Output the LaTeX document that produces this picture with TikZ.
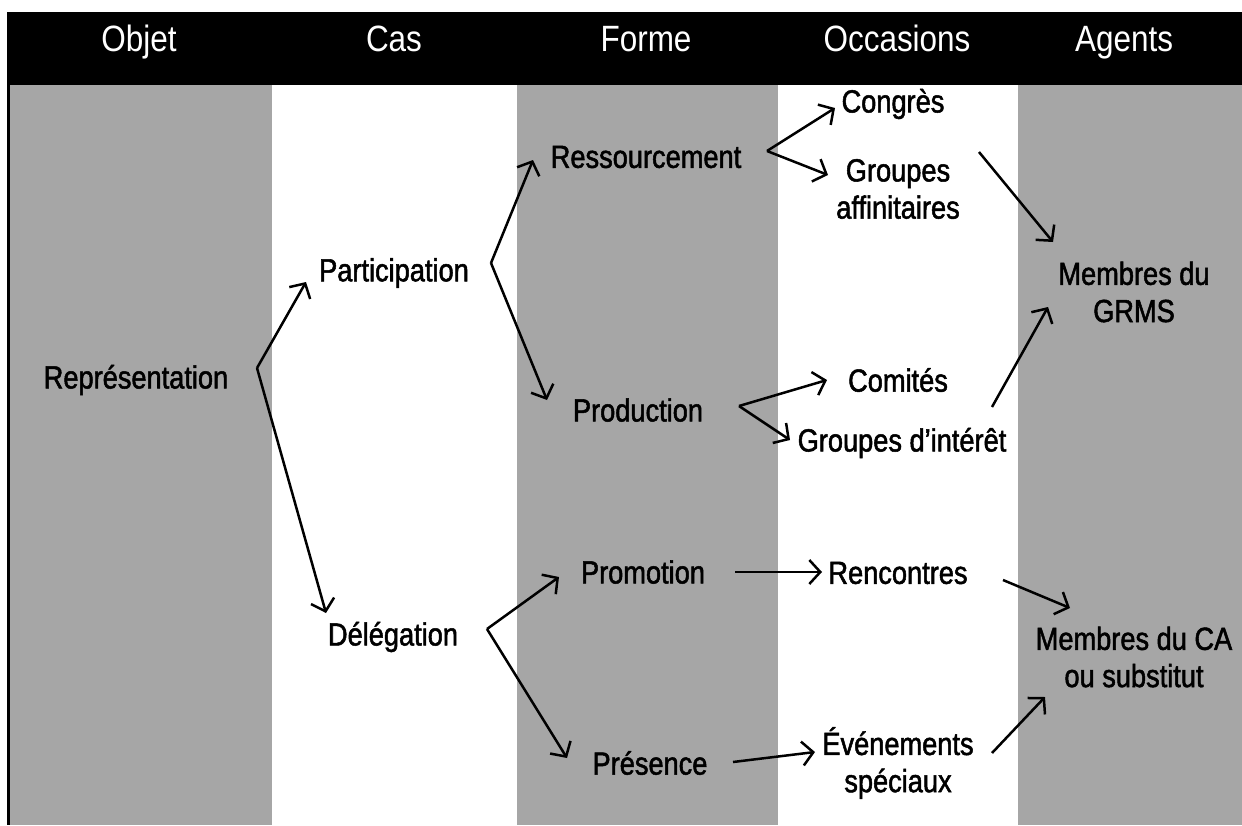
\documentclass[tikz,border=0pt]{standalone}
\usepackage{fontspec}
\setmainfont{Liberation Sans}[FakeStretch=0.86]
\newfontfamily\bodyfont{Liberation Sans}[FakeStretch=0.85, FakeBold=1.6]
\usepackage{xcolor}
\usetikzlibrary{arrows.meta}
\definecolor{colgray}{RGB}{166,166,166}

\tikzset{
  lab/.style={font=\bodyfont\fontsize{16}{18.6}\selectfont, align=center, inner sep=0pt},
  head/.style={font=\fontsize{18.3}{20}\selectfont, text=white, inner sep=0pt, anchor=base},
  flow/.style={-{Straight Barb[length=5.5pt,width=12pt]}, line width=1.25pt},
}

\begin{document}
\begin{tikzpicture}[x=0.5pt,y=-0.5pt]
\useasboundingbox (0,0) rectangle (1242,825);

% columns and header band
\fill[colgray] (9,85) rectangle (272,825);
\fill[colgray] (517,85) rectangle (778,825);
\fill[colgray] (1018,85) rectangle (1242,825);
\fill[black] (7,12) rectangle (1242,85);
\fill[black] (7,12) rectangle (9.5,825);

% headers
\node[head] (hObjet) at (139,51) {Objet};
\node[head] (hCas) at (394,51) {Cas};
\node[head] (hForme) at (646,51) {Forme};
\node[head] (hOcc) at (897,51) {Occasions};
\node[head] (hAgents) at (1124,51) {Agents};

% items
\node[lab] (rep) at (136,380) {Représentation};
\node[lab] (part) at (394,273) {Participation};
\node[lab] (deleg) at (393,637) {Délégation};
\node[lab] (ress) at (646,157) {Ressourcement};
\node[lab] (prod) at (638,410) {Production};
\node[lab] (promo) at (643,572) {Promotion};
\node[lab] (pres) at (650,763) {Présence};
\node[lab] (congres) at (893,104) {Congrès};
\node[lab] (grpaff) at (898,189) {Groupes\\affinitaires};
\node[lab] (comites) at (898,380) {Comités};
\node[lab] (grpint) at (902,443) {Groupes d’intérêt};
\node[lab] (renc) at (898,573) {Rencontres};
\node[lab] (even) at (898,763) {Événements\\spéciaux};
\node[lab] (grms) at (1134,292) {Membres du\\GRMS};
\node[lab] (ca) at (1134,657) {Membres du CA\\ou substitut};

% fork points and arrow ends
\coordinate (vRep) at (257,368);
\coordinate (partIn) at (306,282);
\coordinate (delegIn) at (326,613);
\coordinate (vPart) at (491,263);
\coordinate (ressIn) at (533,160);
\coordinate (prodIn) at (547,400);
\coordinate (vDeleg) at (487,629);
\coordinate (promoIn) at (559,577);
\coordinate (presIn) at (567,758);
\coordinate (vRess) at (767,151);
\coordinate (congresIn) at (835,108);
\coordinate (grpaffIn) at (828,175);
\coordinate (vProd) at (739,406);
\coordinate (comitesIn) at (827,380);
\coordinate (grpintIn) at (790,440);
\coordinate (promoOut) at (735,572);
\coordinate (rencIn) at (822,572);
\coordinate (presOut) at (733,762);
\coordinate (evenIn) at (815,752);
\coordinate (grpaffOut) at (979,152);
\coordinate (grmsInA) at (1053,242);
\coordinate (grpintOut) at (992,407);
\coordinate (grmsInB) at (1048,307);
\coordinate (rencOut) at (1003,580);
\coordinate (caInA) at (1070,608);
\coordinate (evenOut) at (992,753);
\coordinate (caInB) at (1045,697);

\draw[flow] (vRep) -- (partIn);
\draw[flow] (vRep) -- (delegIn);
\draw[flow] (vPart) -- (ressIn);
\draw[flow] (vPart) -- (prodIn);
\draw[flow] (vDeleg) -- (promoIn);
\draw[flow] (vDeleg) -- (presIn);
\draw[flow] (vRess) -- (congresIn);
\draw[flow] (vRess) -- (grpaffIn);
\draw[flow] (vProd) -- (comitesIn);
\draw[flow] (vProd) -- (grpintIn);
\draw[flow] (promoOut) -- (rencIn);
\draw[flow] (presOut) -- (evenIn);
\draw[flow] (grpaffOut) -- (grmsInA);
\draw[flow] (grpintOut) -- (grmsInB);
\draw[flow] (rencOut) -- (caInA);
\draw[flow] (evenOut) -- (caInB);
\end{tikzpicture}
\end{document}
